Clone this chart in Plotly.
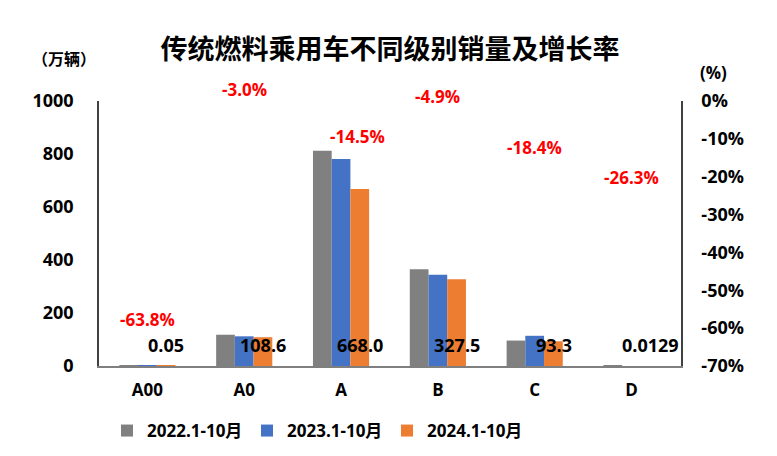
import plotly.graph_objects as go

categories = ["A00", "A0", "A", "B", "C", "D"]
sales_2022 = [0.2, 118, 812, 365, 96, 0.02]
sales_2023 = [0.14, 112, 781, 344, 114, 0.0175]
sales_2024 = [0.05, 108.6, 668.0, 327.5, 93.3, 0.0129]
value_labels = ["0.05", "108.6", "668.0", "327.5", "93.3", "0.0129"]
growth = [-63.8, -3.0, -14.5, -4.9, -18.4, -26.3]
series_names = ["2022.1-10月", "2023.1-10月", "2024.1-10月"]
colors = ["#808080", "#4472C4", "#ED7D31"]
pct_ticks = [0, -10, -20, -30, -40, -50, -60, -70]
pct_tick_labels = ["0%", "-10%", "-20%", "-30%", "-40%", "-50%", "-60%", "-70%"]

FONT = "Open Sans, Noto Sans CJK SC, sans-serif"
CJK = "Noto Sans CJK SC, sans-serif"

# page body has an 8px default margin
OFF = 8
W, H = 777 - OFF, 456 - OFF
L, T = 99 - OFF, 101 - OFF
PW, PH = 582, 265
R, B = W - L - PW, H - T - PH


def px(x):
    return (x - OFF - L) / PW


def py(y):
    return (T + PH - (y - OFF)) / PH


fig = go.Figure()
for name, vals, c in zip(series_names, [sales_2022, sales_2023, sales_2024], colors):
    fig.add_trace(go.Bar(x=categories, y=vals, name=name, marker=dict(color=c, line=dict(width=0)),
                         hoverinfo="skip"))

fig.add_trace(go.Scatter(x=categories, y=growth, yaxis="y2", mode="lines",
                         line=dict(color="rgba(0,0,0,0)"), showlegend=False, hoverinfo="skip"))

annotations = []
for cat, lab in zip(categories, value_labels):
    annotations.append(dict(x=cat, y=0, xref="x", yref="y", text=lab, showarrow=False,
                            xshift=19, yshift=21, yanchor="middle",
                            font=dict(family=FONT, size=18, color="black", weight="bold")))
for cat, g in zip(categories, growth):
    xs, ys = (16, 19) if cat == "A" else (0, 23)
    annotations.append(dict(x=cat, y=g, xref="x", yref="y2", text=f"{g:.1f}%", showarrow=False,
                            xshift=xs, yshift=ys, yanchor="middle",
                            font=dict(family=FONT, size=17, color="#FF0000", weight="bold")))

annotations.append(dict(text="（万辆）", xref="paper", yref="paper", x=px(64), y=py(58),
                        showarrow=False, xanchor="center", yanchor="middle",
                        font=dict(family=CJK, size=16, color="black", weight="bold")))
annotations.append(dict(text="(%)", xref="paper", yref="paper", x=px(713), y=py(72),
                        showarrow=False, xanchor="center", yanchor="middle",
                        font=dict(family=FONT, size=17, color="black", weight="bold")))

fig.update_layout(
    width=W, height=H,
    margin=dict(l=L, r=R, t=T, b=B, autoexpand=False),
    paper_bgcolor="white", plot_bgcolor="white",
    title=dict(text="传统燃料乘用车不同级别销量及增长率", x=(390 - OFF) / W, xanchor="center",
               y=1 - (50 - OFF) / H, yanchor="middle",
               font=dict(family=CJK, size=27, color="black", weight="bold")),
    barmode="group", bargap=0.42, bargroupgap=0,
    xaxis=dict(showgrid=False, showline=True, linecolor="#7f7f7f", linewidth=1.5, ticks="",
               tickfont=dict(family=FONT, size=17, color="black", weight="bold"),
               ticklabelstandoff=8),
    yaxis=dict(range=[0, 1000], dtick=200, showgrid=False, showline=True, linecolor="#404040",
               linewidth=1.5, ticks="", zeroline=False,
               tickfont=dict(family=FONT, size=18, color="black", weight="bold"),
               ticklabelstandoff=20),
    yaxis2=dict(range=[-70, 0], tickmode="array", tickvals=pct_ticks, ticktext=pct_tick_labels,
                overlaying="y", side="right",
                showgrid=False, showline=True, linecolor="#404040", linewidth=1.5, ticks="",
                zeroline=False,
                tickfont=dict(family=FONT, size=18, color="black", weight="bold"),
                ticklabelstandoff=15),
    legend=dict(orientation="h", x=px(107), xanchor="left", y=py(431), yanchor="middle",
                font=dict(family=FONT, size=17, color="black", weight="bold"),
                entrywidth=95, itemwidth=30, bgcolor="rgba(0,0,0,0)"),
    annotations=annotations,
)

fig.write_html("out.html")
